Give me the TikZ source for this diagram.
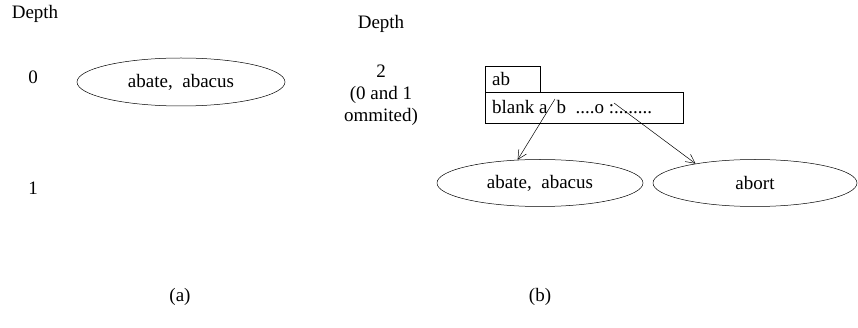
\documentclass[tikz,border=0pt]{standalone}
\usepackage{fontspec}
\setmainfont{Liberation Serif}
\usetikzlibrary{shapes.geometric,arrows.meta}

\tikzset{
  keys/.style={draw, ellipse, line width=0.5pt, minimum width=206pt, minimum height=47pt, inner sep=0pt},
  cell/.style={draw, rectangle, line width=0.5pt, inner sep=0pt, anchor=north west},
  lbl/.style={inner sep=0pt},
  ptr/.style={line width=0.5pt, -{Straight Barb[length=9pt,width=9pt]}}
}

\begin{document}
\begin{tikzpicture}[x=1pt,y=-1pt,font=\fontsize{19}{22}\selectfont]
			%%%%% START %%%%%
			\useasboundingbox (0,0) rectangle (858,328);

			% (a)
			\node[lbl] (depthA) at (35,14) {Depth};
			\node[lbl] (zero) at (33,77) {0};
			\node[lbl] (one) at (33,188) {1};
			\node[keys, minimum width=208pt, minimum height=48pt] (rootA) at (181,82) {abate,\ \ abacus};
			\node[lbl] (capA) at (180,297) {(a)};

			% (b)
			\node[lbl] (depthB) at (381,24) {Depth};
			\node[lbl, align=center] (two) at (381,95) {2\\(0 and 1\\ommited)};

			\node[cell, minimum width=55pt, minimum height=26pt] (abbox) at (485,66) {};
			\node[lbl, anchor=west] (abtxt) at (492,79) {ab};
			\node[cell, minimum width=198pt, minimum height=31pt] (slots) at (485,92) {};
			\node[lbl, anchor=west] (slotstxt) at (492,107) {blank a\hspace{9pt}b\ \ ....o :........};

			\coordinate (sa) at (555,99);
			\coordinate (sb) at (614,103);

			\node[keys] (leafA) at (540,183) {abate,\ \ abacus};
			\node[keys, minimum width=204pt] (leafB) at (755,183) {abort};
			\node[lbl] (capB) at (540,297) {(b)};

			\draw[ptr] (sa) -- (leafA.134);
			\draw[ptr] (sb) -- (leafB.162);
			%%%%% END %%%%%
\end{tikzpicture}
\end{document}
